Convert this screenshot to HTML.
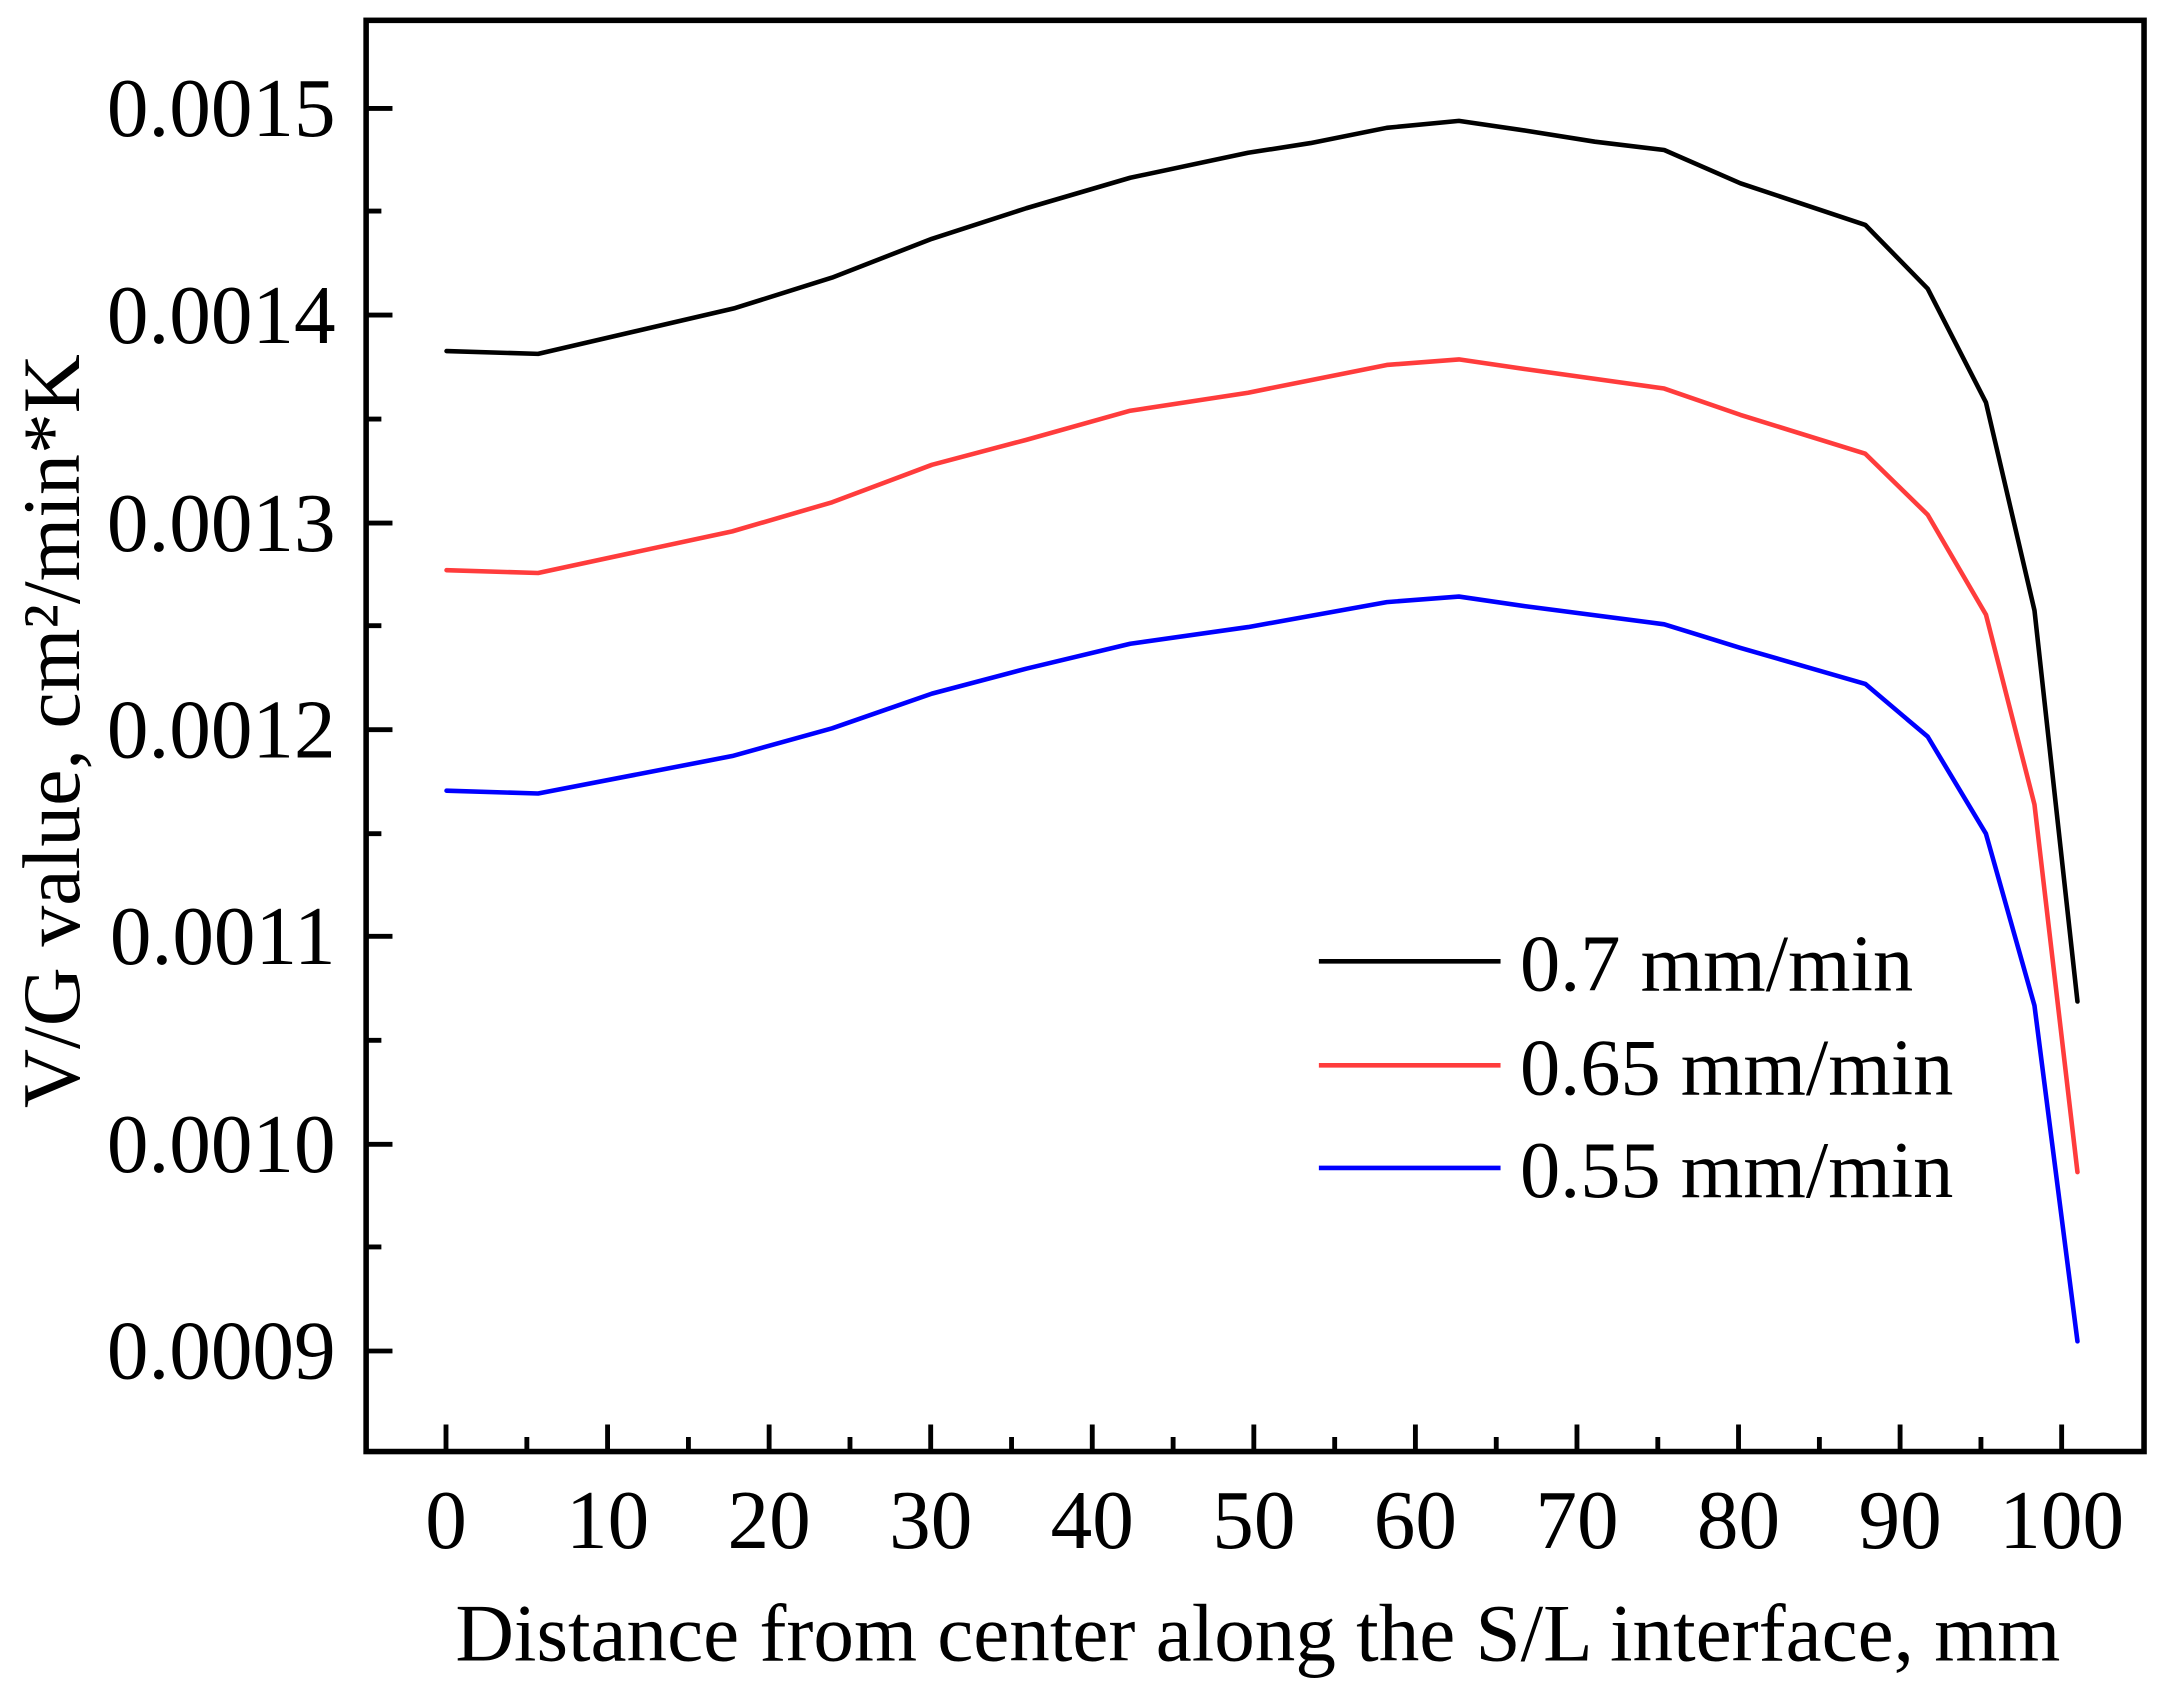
<!DOCTYPE html>
<html><head><style>html,body{margin:0;padding:0;background:#fff}svg{display:block}</style></head>
<body>
<svg width="2169" height="1691" viewBox="0 0 1564 1219" xmlns="http://www.w3.org/2000/svg" font-family="Liberation Serif, serif">
<rect width="1564" height="1219" fill="#fff"/>
<g fill="none" stroke-linejoin="round" stroke-linecap="round" stroke-width="3.3">
<polyline stroke="#000" points="322,253 388,255 530,222 600,200 672,172 740,150 815,128 900,110 945,103 1000,92 1052,87 1100,94 1150,102 1200,108 1255,132 1345,162 1390,208 1432,290 1467,440 1498,722"/>
<polyline stroke="#ff3c3c" points="322,411 388,413 528,383 600,362 672,335 740,317 815,296 900,283 1000,263 1052,259 1100,266 1200,280 1255,299 1345,327 1390,371 1432,443 1467,580 1498,845"/>
<polyline stroke="#0000ff" points="322,570 388,572 528,545 600,525 672,500 740,482 815,464 900,452 1000,434 1052,430 1100,437 1200,450 1255,467 1345,493 1390,531 1432,601 1467,725 1498,967"/>
</g>
<g stroke="#000" stroke-width="4" fill="none">
<rect x="264" y="14.5" width="1282" height="1032"/>
</g>
<g stroke="#000" stroke-width="3.5">
<path d="M264 78h19M264 227h19M264 377h19M264 526h19M264 675h19M264 825h19M264 974h19"/>
<path d="M264 152h11M264 302h11M264 451h11M264 601h11M264 750h11M264 899h11"/>
<path d="M321.6 1046v-19M438.1 1046v-19M554.6 1046v-19M671.1 1046v-19M787.6 1046v-19M904.1 1046v-19M1020.6 1046v-19M1137.1 1046v-19M1253.6 1046v-19M1370.1 1046v-19M1486.6 1046v-19"/>
<path d="M379.9 1046v-10M496.4 1046v-10M612.9 1046v-10M729.4 1046v-10M845.9 1046v-10M962.4 1046v-10M1078.9 1046v-10M1195.4 1046v-10M1311.9 1046v-10M1428.4 1046v-10"/>
</g>
<g font-size="60" text-anchor="end" fill="#000">
<text x="242" y="98">0.0015</text>
<text x="242" y="247">0.0014</text>
<text x="242" y="397">0.0013</text>
<text x="242" y="546">0.0012</text>
<text x="242" y="695">0.0011</text>
<text x="242" y="845">0.0010</text>
<text x="242" y="994">0.0009</text>
</g>
<g font-size="60" text-anchor="middle" fill="#000">
<text x="321.6" y="1116">0</text>
<text x="438.1" y="1116">10</text>
<text x="554.6" y="1116">20</text>
<text x="671.1" y="1116">30</text>
<text x="787.6" y="1116">40</text>
<text x="904.1" y="1116">50</text>
<text x="1020.6" y="1116">60</text>
<text x="1137.1" y="1116">70</text>
<text x="1253.6" y="1116">80</text>
<text x="1370.1" y="1116">90</text>
<text x="1486.6" y="1116">100</text>
<text x="907" y="1197" font-size="58.5">Distance from center along the S/L interface, mm</text>
<text transform="translate(57,527) rotate(-90)" font-size="59">V/G value, cm²/min*K</text>
</g>
<g stroke-width="3.3">
<line x1="951" y1="693" x2="1082" y2="693" stroke="#000"/>
<line x1="951" y1="768" x2="1082" y2="768" stroke="#ff3c3c"/>
<line x1="951" y1="842" x2="1082" y2="842" stroke="#0000ff"/>
</g>
<g font-size="58" fill="#000">
<text x="1096" y="714">0.7 mm/min</text>
<text x="1096" y="789">0.65 mm/min</text>
<text x="1096" y="863">0.55 mm/min</text>
</g>
</svg>
</body></html>
